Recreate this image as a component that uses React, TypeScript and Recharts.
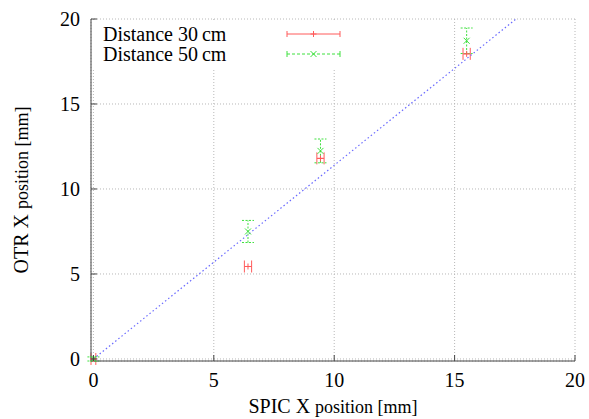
import { CartesianGrid, ErrorBar, Legend, Scatter, ScatterChart, XAxis, YAxis } from 'recharts';

const SERIF = '"Liberation Serif", "DejaVu Serif", serif';
const AXIS = '#444';
const RED = '#ff5a5a';
const GREEN = '#3ee03e';
const BLUE = '#6a6aff';

const ticks = [0, 5, 10, 15, 20];

// SPIC X position [mm] of the four measurements
const spicX = [0, 6.42, 9.43, 15.5];
// OTR X position [mm], distance 30 cm (x error bars)
const otr30 = [0, 5.44, 11.8, 17.95];
const otr30ErrX = [0.1, 0.15, 0.15, 0.15];
// OTR X position [mm], distance 50 cm (y error bars)
const otr50 = [0, 7.5, 12.24, 18.72];
const otr50ErrY = [0.12, 0.65, 0.7, 0.75];
// reference line y = 1.14 x
const fitX = [0, 17.55];
const fitY = [0, 20];

const series30 = spicX.map((x, i) => ({ x, y: otr30[i], ex: otr30ErrX[i] }));
const series50 = spicX.map((x, i) => ({ x, y: otr50[i], ey: otr50ErrY[i] }));
const fitLine = fitX.map((x, i) => ({ x, y: fitY[i] }));

function Plus({ cx, cy }: any) {
  return (
    <g stroke={RED} strokeWidth={1}>
      <line x1={cx - 3} y1={cy} x2={cx + 3} y2={cy} />
      <line x1={cx} y1={cy - 3} x2={cx} y2={cy + 3} />
    </g>
  );
}

function Cross({ cx, cy }: any) {
  return (
    <g stroke={GREEN} strokeWidth={1}>
      <line x1={cx - 3} y1={cy - 3} x2={cx + 3} y2={cy + 3} />
      <line x1={cx - 3} y1={cy + 3} x2={cx + 3} y2={cy - 3} />
    </g>
  );
}

function BottomTick({ x, y, payload }: any) {
  return (
    <g>
      <line x1={x} y1={y} x2={x} y2={y - 6} stroke={AXIS} />
      <text x={x} y={y + 26} textAnchor="middle" fontSize={20} fontFamily={SERIF} fill="#000">
        {payload.value}
      </text>
    </g>
  );
}

function LeftTick({ x, y, payload }: any) {
  return (
    <g>
      <line x1={x} y1={y} x2={x + 6} y2={y} stroke={AXIS} />
      <text x={x - 11} y={y + 7} textAnchor="end" fontSize={20} fontFamily={SERIF} fill="#000">
        {payload.value}
      </text>
    </g>
  );
}

function TopTick({ x, y }: any) {
  return <line x1={x} y1={y} x2={x} y2={y + 6} stroke={AXIS} />;
}

function RightTick({ x, y }: any) {
  return <line x1={x} y1={y} x2={x - 6} y2={y} stroke={AXIS} />;
}

function KeySample({ color, dashed, marker }: { color: string; dashed?: boolean; marker: 'plus' | 'cross' }) {
  return (
    <svg width={56} height={12} style={{ display: 'block' }}>
      <g stroke={color} strokeWidth={1}>
        <line x1={1} y1={6} x2={54} y2={6} strokeDasharray={dashed ? '3 2' : undefined} />
        <line x1={1} y1={3} x2={1} y2={9} />
        <line x1={54} y1={3} x2={54} y2={9} />
        {marker === 'plus' ? (
          <>
            <line x1={24.5} y1={6} x2={30.5} y2={6} />
            <line x1={27.5} y1={3} x2={27.5} y2={9} />
          </>
        ) : (
          <>
            <line x1={24.5} y1={3} x2={30.5} y2={9} />
            <line x1={24.5} y1={9} x2={30.5} y2={3} />
          </>
        )}
      </g>
    </svg>
  );
}

function Key() {
  const rows = [
    { label: 'Distance 30\u2009cm', color: RED, marker: 'plus' as const },
    { label: 'Distance 50\u2009cm', color: GREEN, dashed: true, marker: 'cross' as const },
  ];
  return (
    <div style={{ background: '#fff', padding: '3px 8px 4px 11px', fontFamily: SERIF, fontSize: 20, color: '#000' }}>
      {rows.map((r) => (
        <div key={r.label} style={{ display: 'flex', alignItems: 'center', height: 20 }}>
          <span style={{ width: 183, whiteSpace: 'nowrap' }}>{r.label}</span>
          <KeySample color={r.color} dashed={r.dashed} marker={r.marker} />
        </div>
      ))}
    </div>
  );
}

export default function App() {
  return (
    <div style={{ position: 'absolute', left: 0, top: 0, background: '#fff' }}>
      <ScatterChart width={589} height={419} margin={{ top: 19, right: 14, bottom: 0, left: 0 }}>
        <CartesianGrid stroke="#b8b8b8" strokeDasharray="1 2" />
        <XAxis
          type="number"
          dataKey="x"
          domain={[0, 20]}
          ticks={ticks}
          height={58}
          stroke={AXIS}
          tickSize={0}
          tickMargin={0}
          tick={<BottomTick />}
          label={{
            content: ({ viewBox }: any) => (
              <text
                x={viewBox.x + viewBox.width / 2}
                y={viewBox.y + 52}
                textAnchor="middle"
                fontFamily={SERIF}
                fill="#000"
              >
                <tspan fontSize={20}>SPIC X </tspan>
                <tspan fontSize={18}>position [mm]</tspan>
              </text>
            ),
          }}
        />
        <XAxis xAxisId="top" orientation="top" type="number" dataKey="x" domain={[0, 20]} ticks={ticks} height={0} stroke={AXIS} tickSize={0} tick={<TopTick />} />
        <YAxis
          type="number"
          dataKey="y"
          domain={[0, 20]}
          ticks={ticks}
          width={91}
          stroke={AXIS}
          tickSize={0}
          tickMargin={0}
          tick={<LeftTick />}
          label={{
            content: ({ viewBox }: any) => {
              const cy = viewBox.y + viewBox.height / 2;
              return (
                <text x={28} y={cy} transform={`rotate(-90 28 ${cy})`} textAnchor="middle" fontFamily={SERIF} fill="#000">
                  <tspan fontSize={20}>OTR X </tspan>
                  <tspan fontSize={18}>position [mm]</tspan>
                </text>
              );
            },
          }}
        />
        <YAxis yAxisId="right" orientation="right" type="number" dataKey="y" domain={[0, 20]} ticks={ticks} width={0} stroke={AXIS} tickSize={0} tick={<RightTick />} />
        <Legend
          layout="horizontal"
          verticalAlign="middle"
          align="center"
          content={<Key />}
          wrapperStyle={{ position: 'absolute', left: 92, top: 21, width: 'auto' }}
        />
        <Scatter data={fitLine} line={{ stroke: BLUE, strokeWidth: 1.2, strokeDasharray: '1.5 2.5' }} shape={() => null} isAnimationActive={false} />
        <Scatter data={series30} shape={<Plus />} isAnimationActive={false}>
          <ErrorBar dataKey="ex" direction="x" width={6} stroke={RED} strokeWidth={1} />
        </Scatter>
        <Scatter data={series50} shape={<Cross />} isAnimationActive={false}>
          <ErrorBar dataKey="ey" direction="y" width={6} stroke={GREEN} strokeWidth={1} strokeDasharray="2 1.5" />
        </Scatter>
      </ScatterChart>
    </div>
  );
}
